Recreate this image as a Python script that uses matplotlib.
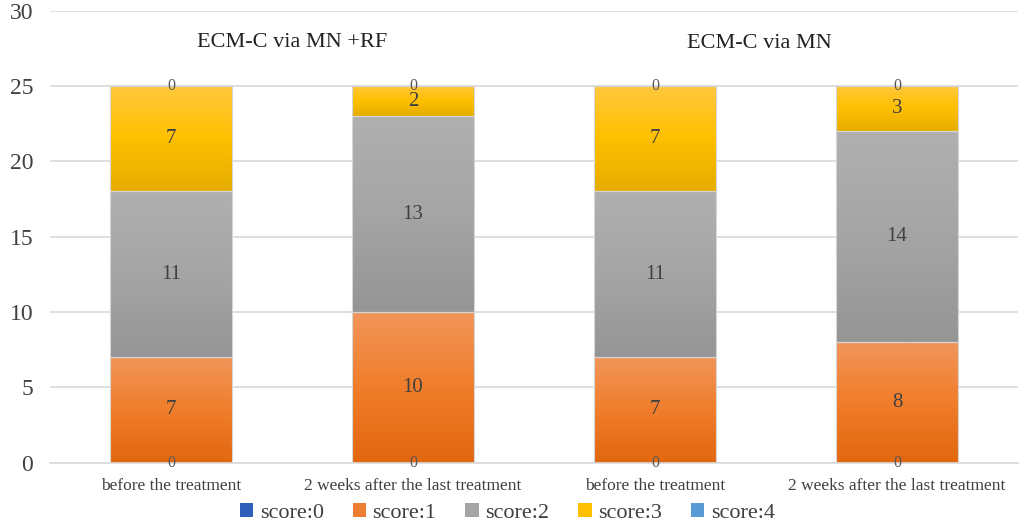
import numpy as np
import matplotlib
matplotlib.use("Agg")
import matplotlib.pyplot as plt
from matplotlib.colors import LinearSegmentedColormap
from matplotlib.patches import Patch

plt.rcParams['font.family'] = ['Liberation Serif', 'DejaVu Serif']

# data
categories = ["before the treatment", "2 weeks after the last treatment",
              "before the treatment", "2 weeks after the last treatment"]
series_names = ["score:0", "score:1", "score:2", "score:3", "score:4"]
score0 = [0, 0, 0, 0]
score1 = [7, 10, 7, 8]
score2 = [11, 13, 11, 14]
score3 = [7, 2, 7, 3]
score4 = [0, 0, 0, 0]
group_titles = ["ECM-C via MN +RF", "ECM-C via MN"]

series = [score0, score1, score2, score3, score4]
# gradient colours, top -> middle -> bottom (Excel style)
grads = [
    ["#4a7bd0", "#2f5fb8", "#22509f"],
    ["#f2955a", "#f07d2a", "#e2670f"],
    ["#b0b0b0", "#a5a5a5", "#959595"],
    ["#ffc83d", "#ffc000", "#e6ad00"],
    ["#6aa8dc", "#5b9bd5", "#4a88c2"],
]
legend_cols = ["#2f5fb8", "#ed7d31", "#a5a5a5", "#ffc000", "#5b9bd5"]

fig = plt.figure(figsize=(10.21, 5.30), dpi=100)
ax = fig.add_axes([0.049, 0.127, 0.948, 0.853])

x = np.arange(len(categories))
width = 0.504
bottom = np.zeros(len(categories))
for vals, g in zip(series, grads):
    vals = np.array(vals, dtype=float)
    cmap = LinearSegmentedColormap.from_list("g", g[::-1])
    bars = ax.bar(x, vals, width, bottom=bottom, color="none",
                  edgecolor="#d6d6d6", linewidth=0.8, zorder=2)
    for b, v, b0 in zip(bars, vals, bottom):
        if v > 0:
            grad = np.linspace(0, 1, 128).reshape(-1, 1)
            im = ax.imshow(grad, cmap=cmap, origin="lower", aspect="auto",
                           extent=[b.get_x(), b.get_x() + width, b0, b0 + v],
                           zorder=1.5)
            im.set_clip_path(b)
        if v == 0:
            ax.text(b.get_x() + width / 2, b0 + v / 2, "0", ha="center",
                    va="center", fontsize=11.5, color="#595959", zorder=4)
        else:
            ax.text(b.get_x() + width / 2, b0 + v / 2, f"{int(v)}", ha="center",
                    va="center", fontsize=15, color="#404040", zorder=4)
    bottom += vals

ax.text(0.5, 27.9, group_titles[0], ha="center", va="center", fontsize=16,
        color="#222222")
ax.text(2.43, 27.8, group_titles[1], ha="center", va="center", fontsize=16,
        color="#222222")

ax.set_xlim(-0.5, 3.5)
ax.set_ylim(0, 30)
ax.set_yticks(range(0, 31, 5))
ax.set_xticks(x)
ax.set_xticklabels(categories, fontsize=12.5, color="#404040")
ax.tick_params(axis="y", labelsize=17, colors="#404040", length=0, pad=12)
ax.tick_params(axis="x", length=0, pad=11)
ax.grid(axis="y", color="#d9d9d9", linewidth=1.2, zorder=0)
ax.set_axisbelow(True)
for s in ["top", "right", "left"]:
    ax.spines[s].set_visible(False)
ax.spines["bottom"].set_color("#d9d9d9")
ax.spines["bottom"].set_linewidth(1.2)

handles = [Patch(facecolor=c) for c in legend_cols]
fig.legend(handles, series_names, loc="center", bbox_to_anchor=(0.497, 0.032),
           ncol=5, frameon=False,
           prop={"family": "Liberation Serif", "size": 16},
           handlelength=0.6, handleheight=0.6, handletextpad=0.3,
           columnspacing=1.3, labelcolor="#404040")

fig.savefig("out.png", dpi=100)
